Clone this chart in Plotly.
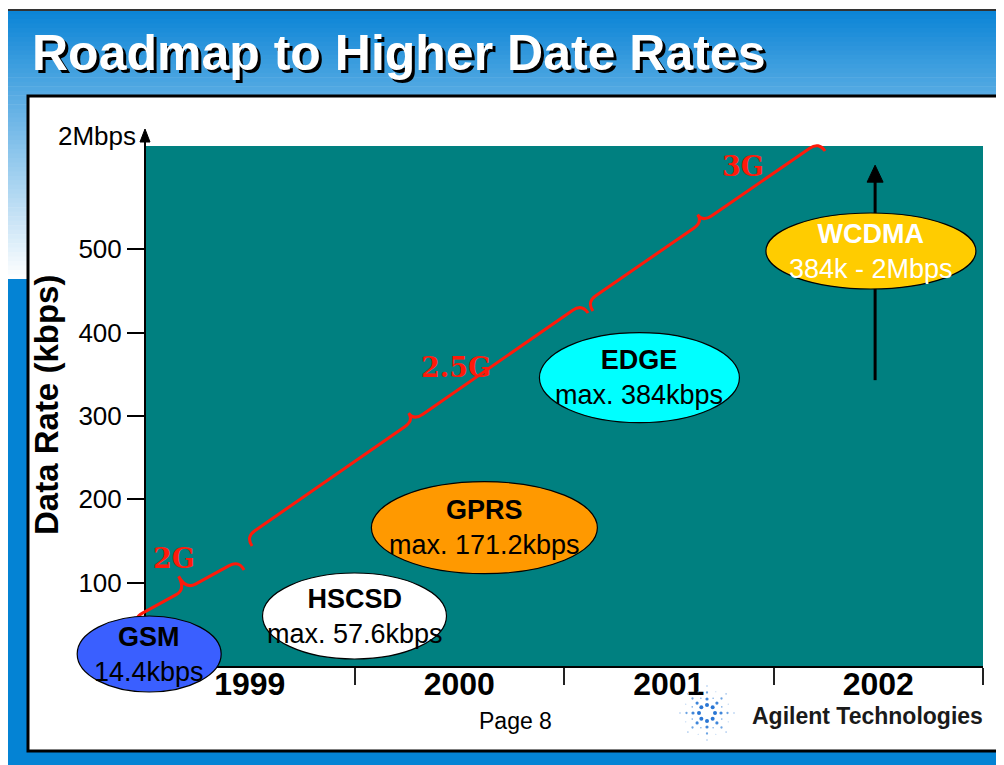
import math
import plotly.graph_objects as go

# ---------------- data ----------------
years = [1999, 2000, 2001, 2002]
year_labels = ["1999", "2000", "2001", "2002"]
year_bounds = [1999.5, 2000.5, 2001.5, 2002.5]

y_ticks = [100, 200, 300, 400, 500]
y_tick_labels = ["100", "200", "300", "400", "500"]
y_top_label = "2Mbps"

techs = ["GSM", "HSCSD", "GPRS", "EDGE", "WCDMA"]
tech_rates = ["14.4kbps", "max. 57.6kbps", "max. 171.2kbps", "max. 384kbps", "384k - 2Mbps"]
tech_year = [1998.52, 1999.5, 2000.12, 2000.86, 2001.965]
tech_kbps = [14.4, 60, 166, 346, 498]

generations = ["2G", "2.5G", "3G"]
gen_start_year = [1998.467, 1999.011, 2000.638]
gen_start_kbps = [45.6, 144, 426]
gen_end_year = [1998.973, 2000.615, 2001.746]
gen_end_kbps = [115.2, 423.6, 618]
gen_label_year = [1998.638, 1999.985, 2001.354]
gen_label_kbps = [129.6, 358.8, 600]

wcdma_arrow_year = 2001.985
wcdma_arrow_from = 343
wcdma_arrow_to = 601

# ---------------- styles / layout ----------------
PAGE_W, PAGE_H = 1004, 765
OFF = 8                      # default body margin of the html page
PLOT_L, PLOT_T, PLOT_R, PLOT_B = 145, 146, 983, 666   # page pixels
FIG_W, FIG_H = PAGE_W - OFF, PAGE_H - OFF
ML, MT = PLOT_L - OFF, PLOT_T - OFF
MR, MB = PAGE_W - PLOT_R, PAGE_H - PLOT_B
PW = PLOT_R - PLOT_L
PH = PLOT_B - PLOT_T
X_RANGE = [1998.5, 2002.5]
Y_RANGE = [0, 624]
FONT = "Liberation Sans, Arial, sans-serif"
TEAL = "#008080"
RED = "#FF1A0A"

tech_fill = ["#3A5FFF", "#FFFFFF", "#FF9900", "#00FFFF", "#FFCC00"]
tech_text_color = ["black", "black", "black", "black", "white"]
tech_rx = [72, 92, 113, 100, 105]
tech_ry = [38, 43, 46, 45, 38]
gen_tip = [26, 20, 20]


def dx2px(x):
    return PLOT_L + (x - X_RANGE[0]) / (X_RANGE[1] - X_RANGE[0]) * PW


def dy2px(y):
    return PLOT_B - (y - Y_RANGE[0]) / (Y_RANGE[1] - Y_RANGE[0]) * PH


def px2p(x):
    return (x - PLOT_L) / PW


def py2p(y):
    return (PLOT_B - y) / PH


shapes = []


def rect_px(x0, y0, x1, y1, fill, line_color=None, line_width=0, layer="below"):
    shapes.append(dict(
        type="rect", xref="paper", yref="paper",
        x0=px2p(x0), x1=px2p(x1), y0=py2p(y1), y1=py2p(y0),
        fillcolor=fill,
        line=dict(color=line_color or fill, width=line_width),
        layer=layer,
    ))


# slide background: gradient band at top, solid blue below
top_c = (10, 132, 214)
g_y0, g_y1 = 10, 279
nb = 60
for i in range(nb):
    ya = g_y0 + (g_y1 - g_y0) * i / nb
    yb = g_y0 + (g_y1 - g_y0) * (i + 1) / nb + 0.6
    t = (i + 0.5) / nb
    c = tuple(int(round(top_c[k] + (255 - top_c[k]) * t)) for k in range(3))
    rect_px(7, ya, 1010, yb, "rgb(%d,%d,%d)" % c)
rect_px(7, g_y1, 1010, 770, "#0483D4")
# slide outline
shapes.append(dict(type="line", xref="paper", yref="paper", x0=px2p(7), x1=px2p(1010),
                   y0=py2p(10), y1=py2p(10), line=dict(color="#333333", width=2), layer="below"))
shapes.append(dict(type="line", xref="paper", yref="paper", x0=px2p(7), x1=px2p(7),
                   y0=py2p(10), y1=py2p(770), line=dict(color="#333333", width=2), layer="below"))
# white content panel
rect_px(28, 96, 1001, 751, "white", "black", 3)
# teal plotting area
shapes.append(dict(type="rect", xref="paper", yref="paper", x0=0, x1=1, y0=0, y1=1,
                   fillcolor=TEAL, line=dict(width=0), layer="below"))

# y axis line with arrow head
shapes.append(dict(type="line", xref="paper", yref="paper", x0=0, x1=0,
                   y0=0, y1=py2p(139), line=dict(color="black", width=2), layer="above"))
shapes.append(dict(type="path", xref="paper", yref="paper",
                   path="M%f,%f L%f,%f L%f,%f Z" % (px2p(145), py2p(129), px2p(140), py2p(142),
                                                    px2p(150), py2p(142)),
                   fillcolor="black", line=dict(color="black", width=1), layer="above"))


# generation braces
def brace_path(x0d, y0d, x1d, y1d, c, t):
    sx, sy = dx2px(x0d), dy2px(y0d)
    ex, ey = dx2px(x1d), dy2px(y1d)
    L = math.hypot(ex - sx, ey - sy)
    ux, uy = (ex - sx) / L, (ey - sy) / L
    nx, ny = uy, -ux
    mx, my = (sx + ex) / 2, (sy + ey) / 2

    def P(x, y):
        return "%f,%f" % (px2p(x), py2p(y))

    pts = [
        "M" + P(sx, sy),
        "Q" + P(sx + c * nx, sy + c * ny) + " " + P(sx + c * (ux + nx), sy + c * (uy + ny)),
        "L" + P(mx + c * (nx - ux), my + c * (ny - uy)),
        "Q" + P(mx + c * nx, my + c * ny) + " " + P(mx + t * nx, my + t * ny),
        "Q" + P(mx + c * nx, my + c * ny) + " " + P(mx + c * (ux + nx), my + c * (uy + ny)),
        "L" + P(ex + c * (nx - ux), ey + c * (ny - uy)),
        "Q" + P(ex + c * nx, ey + c * ny) + " " + P(ex, ey),
    ]
    return " ".join(pts)


for i in range(len(generations)):
    shapes.append(dict(type="path", xref="paper", yref="paper",
                       path=brace_path(gen_start_year[i], gen_start_kbps[i],
                                       gen_end_year[i], gen_end_kbps[i], 11, gen_tip[i]),
                       line=dict(color=RED, width=3), layer="above"))

# WCDMA arrow
ax_px = dx2px(wcdma_arrow_year)
shapes.append(dict(type="line", xref="paper", yref="paper", x0=px2p(ax_px), x1=px2p(ax_px),
                   y0=py2p(dy2px(wcdma_arrow_from)), y1=py2p(dy2px(wcdma_arrow_to) + 12),
                   line=dict(color="black", width=3), layer="above"))
tip_y = dy2px(wcdma_arrow_to)
shapes.append(dict(type="path", xref="paper", yref="paper",
                   path="M%f,%f L%f,%f L%f,%f Z" % (px2p(ax_px), py2p(tip_y), px2p(ax_px - 8),
                                                    py2p(tip_y + 17), px2p(ax_px + 8), py2p(tip_y + 17)),
                   fillcolor="black", line=dict(color="black", width=1), layer="above"))

# technology ellipses
for i in range(len(techs)):
    cx, cy = dx2px(tech_year[i]), dy2px(tech_kbps[i])
    shapes.append(dict(type="circle", xref="paper", yref="paper",
                       x0=px2p(cx - tech_rx[i]), x1=px2p(cx + tech_rx[i]),
                       y0=py2p(cy + tech_ry[i]), y1=py2p(cy - tech_ry[i]),
                       fillcolor=tech_fill[i], line=dict(color="black", width=1.2), layer="above"))

# Agilent logo spark
lcx, lcy = 707, 713
for k in range(8):
    ang = k * math.pi / 4
    for r, d, col in [(8, 4.0, "#2A76D4"), (14, 3.2, "#3F86DA"), (20.5, 2.3, "#6DA4E3"), (27, 1.6, "#9DC1EC")]:
        cx = lcx + r * math.cos(ang)
        cy = lcy + r * math.sin(ang)
        shapes.append(dict(type="circle", xref="paper", yref="paper",
                           x0=px2p(cx - d / 2), x1=px2p(cx + d / 2),
                           y0=py2p(cy + d / 2), y1=py2p(cy - d / 2),
                           fillcolor=col, line=dict(width=0), layer="above"))
for k in range(8):
    ang = k * math.pi / 4 + math.pi / 8
    for r, d, col in [(16, 1.6, "#7AACE6"), (23, 1.2, "#B0CDEF")]:
        cx = lcx + r * math.cos(ang)
        cy = lcy + r * math.sin(ang)
        shapes.append(dict(type="circle", xref="paper", yref="paper",
                           x0=px2p(cx - d / 2), x1=px2p(cx + d / 2),
                           y0=py2p(cy + d / 2), y1=py2p(cy - d / 2),
                           fillcolor=col, line=dict(width=0), layer="above"))

annotations = []


def ann_px(text, x, y, size, color="black", xanchor="center", bold=False, family=FONT,
           angle=0, shadow=None):
    font = dict(family=family, size=size, color=color)
    if shadow:
        font["shadow"] = shadow
    annotations.append(dict(
        text="<b>%s</b>" % text if bold else text,
        xref="paper", yref="paper", x=px2p(x), y=py2p(y),
        xanchor=xanchor, yanchor="middle", showarrow=False, textangle=angle,
        font=font,
    ))


# title with drop shadow
ann_px("Roadmap to Higher Date Rates", 30, 53, 50, "white", "left", True,
       shadow="3px 3px 0px #000000")
ann_px(y_top_label, 138, 136, 26, "black", "right")
ann_px("Data Rate (kbps)", 46, 405, 33, "black", "center", True, angle=-90)
ann_px("Page 8", 515, 721, 23)
ann_px("Agilent Technologies", 867, 716, 23, "#1A1A1A", "center", True)

for i in range(len(techs)):
    annotations.append(dict(
        text="<b>%s</b><br>%s" % (techs[i], tech_rates[i]),
        xref="x", yref="y", x=tech_year[i], y=tech_kbps[i],
        xanchor="center", yanchor="middle", showarrow=False,
        font=dict(family=FONT, size=27, color=tech_text_color[i]),
    ))

for i in range(len(generations)):
    annotations.append(dict(
        text="<b>%s</b>" % generations[i],
        xref="x", yref="y", x=gen_label_year[i], y=gen_label_kbps[i],
        xanchor="center", yanchor="middle", showarrow=False,
        font=dict(family="DejaVu Serif, serif", size=27, color=RED),
    ))

fig = go.Figure()
fig.add_trace(go.Scatter(x=tech_year, y=tech_kbps, mode="markers",
                         marker=dict(opacity=0), hoverinfo="skip", showlegend=False))

fig.update_layout(
    width=FIG_W, height=FIG_H,
    margin=dict(l=ML, r=MR, t=MT, b=MB, pad=0),
    paper_bgcolor="white", plot_bgcolor=TEAL,
    font=dict(family=FONT, color="black"),
    showlegend=False,
    shapes=shapes,
    annotations=annotations,
    xaxis=dict(
        range=X_RANGE, tickmode="array", tickvals=years, ticktext=year_labels,
        ticks="", showgrid=False, zeroline=False, showline=True,
        linecolor="black", linewidth=2, automargin=False, ticklabelstandoff=-11,
        tickfont=dict(family=FONT, size=32, color="black", weight="bold"),
        minor=dict(tickmode="array", tickvals=year_bounds, ticks="outside",
                   ticklen=17, tickwidth=2, tickcolor="#222222", showgrid=False),
    ),
    yaxis=dict(
        range=Y_RANGE, tickmode="array", tickvals=y_ticks, ticktext=y_tick_labels,
        ticks="outside", ticklen=17, tickwidth=2, tickcolor="black",
        showgrid=False, zeroline=False, showline=False, automargin=False,
        tickfont=dict(family=FONT, size=26, color="black"),
    ),
)

fig.write_html("out.html")
